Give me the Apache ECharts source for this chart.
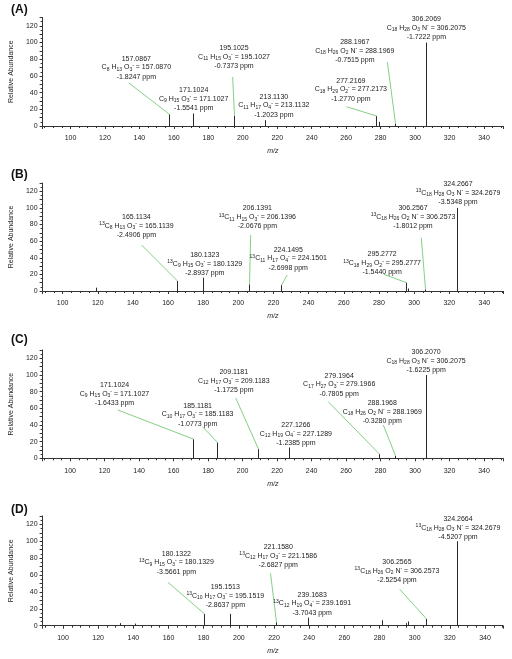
<!DOCTYPE html>
<html><head><meta charset="utf-8">
<script src="https://cdn.jsdelivr.net/npm/echarts@6/dist/echarts.min.js"></script>
<style>html,body{margin:0;padding:0;background:#fff}#c{width:512px;height:659px}</style>
</head><body><div id="c"></div>
<script>
// ---------- Panel A ----------
const mzA = [157.0867, 171.1024, 195.1025, 213.1130, 277.2169, 279.22, 288.1967, 306.2069];
const abA = [14, 15, 12, 7, 12, 5, 3, 100];
const labA = [
  [0, '157.0867', 'C{s|8} H{s|13} O{s|3}{p|-} = 157.0870', '-1.8247 ppm'],
  [1, '171.1024', 'C{s|9} H{s|15} O{s|3}{p|-} = 171.1027', '-1.5541 ppm'],
  [2, '195.1025', 'C{s|11} H{s|15} O{s|3}{p|-} = 195.1027', '-0.7373 ppm'],
  [3, '213.1130', 'C{s|11} H{s|17} O{s|4}{p|-} = 213.1132', '-1.2023 ppm'],
  [4, '277.2169', 'C{s|18} H{s|29} O{s|2}{p|-} = 277.2173', '-1.2770 ppm'],
  [6, '288.1967', 'C{s|18} H{s|26} O{s|2} N{p|-} = 288.1969', '-0.7515 ppm'],
  [7, '306.2069', 'C{s|18} H{s|28} O{s|3} N{p|-} = 306.2075', '-1.7222 ppm']
];
// ---------- Panel B ----------
const mzB = [119.05, 165.1134, 180.1323, 206.1391, 224.1495, 295.2772, 296.28, 306.2567, 324.2667];
const abB = [4, 12, 16, 8, 7, 10, 3, 2, 100];
const labB = [
  [1, '165.1134', '{p|13}C{s|8} H{s|13} O{s|3}{p|-} = 165.1139', '-2.4906 ppm'],
  [2, '180.1323', '{p|13}C{s|9} H{s|15} O{s|3}{p|-} = 180.1329', '-2.8937 ppm'],
  [3, '206.1391', '{p|13}C{s|11} H{s|15} O{s|3}{p|-} = 206.1396', '-2.0676 ppm'],
  [4, '224.1495', '{p|13}C{s|11} H{s|17} O{s|4}{p|-} = 224.1501', '-2.6998 ppm'],
  [5, '295.2772', '{p|13}C{s|18} H{s|29} O{s|2}{p|-} = 295.2777', '-1.5440 ppm'],
  [7, '306.2567', '{p|13}C{s|18} H{s|26} O{s|2} N{p|-} = 306.2573', '-1.8012 ppm'],
  [8, '324.2667', '{p|13}C{s|18} H{s|28} O{s|3} N{p|-} = 324.2679', '-3.5348 ppm']
];
// ---------- Panel C ----------
const mzC = [171.1024, 185.1181, 209.1181, 227.1266, 279.1964, 288.1968, 306.2070];
const abC = [23, 19, 11, 13, 5, 3, 100];
const labC = [
  [0, '171.1024', 'C{s|9} H{s|15} O{s|3}{p|-} = 171.1027', '-1.6433 ppm'],
  [1, '185.1181', 'C{s|10} H{s|17} O{s|3}{p|-} = 185.1183', '-1.0773 ppm'],
  [2, '209.1181', 'C{s|12} H{s|17} O{s|3}{p|-} = 209.1183', '-1.1725 ppm'],
  [3, '227.1266', 'C{s|12} H{s|19} O{s|4}{p|-} = 227.1289', '-1.2385 ppm'],
  [4, '279.1964', 'C{s|17} H{s|27} O{s|3}{p|-} = 279.1966', '-0.7805 ppm'],
  [5, '288.1968', 'C{s|18} H{s|26} O{s|2} N{p|-} = 288.1969', '-0.3280 ppm'],
  [6, '306.2070', 'C{s|18} H{s|28} O{s|3} N{p|-} = 306.2075', '-1.6225 ppm']
];
// ---------- Panel D ----------
const mzD = [132.7, 141.1, 180.1322, 195.1513, 221.1580, 239.1683, 281.5, 295.3, 296.2, 306.2565, 324.2664];
const abD = [3, 2.5, 14, 14, 4, 9.5, 6.5, 3, 5, 8, 100];
const labD = [
  [2, '180.1322', '{p|13}C{s|9} H{s|15} O{s|3}{p|-} = 180.1329', '-3.5661 ppm'],
  [3, '195.1513', '{p|13}C{s|10} H{s|17} O{s|3}{p|-} = 195.1519', '-2.8637 ppm'],
  [4, '221.1580', '{p|13}C{s|12} H{s|17} O{s|3}{p|-} = 221.1586', '-2.6827 ppm'],
  [5, '239.1683', '{p|13}C{s|12} H{s|19} O{s|4}{p|-} = 239.1691', '-3.7043 ppm'],
  [9, '306.2565', '{p|13}C{s|18} H{s|26} O{s|2} N{p|-} = 306.2573', '-2.5254 ppm'],
  [10, '324.2664', '{p|13}C{s|18} H{s|28} O{s|3} N{p|-} = 324.2679', '-4.5207 ppm']
];

// ---------- label layout (data coords of formula-line centre, and leader start) ----------
const posA = [[138.2, 70.3], [171.5, 32.7], [194.9, 83], [218, 24.8], [262.7, 44], [265, 89.8], [306.5, 117.7]];
const fromA = [[133.9, 51.5], null, [194.1, 58.7], null, [260.2, 23.1], [283.9, 76.6], null];
const posB = [[142.0, 78.3], [180.9, 32.5], [210.8, 88.8], [228.4, 39.4], [281.8, 33.4], [299.4, 89.5], [325.0, 118.4]];
const fromB = [[144.9, 55.4], null, [207.0, 67.5], [227.8, 19.3], [282.8, 20.1], [304.1, 64.2], null];
const posC = [[125.7, 77.2], [173.9, 52.8], [194.9, 93.2], [230.9, 29.2], [256.0, 88.8], [281.0, 55.9], [306.4, 116.8]];
const fromC = [[127.6, 58], [176.8, 37.9], [196.0, 72.4], null, [249.6, 68], [281.6, 40], null];
const posD = [[164.5, 75], [192.3, 35.5], [222.4, 82.8], [241.7, 26.5], [289.9, 64.7], [324.6, 116]];
const fromD = [[159.7, 51.4], null, [218.0, 62], null, [291.5, 43.1], null];

const FONT = 'Liberation Sans, Arial, sans-serif';
const TXT = '#222';
const LEADER = '#86cf86';

const panels = [
  {tag: '(A)', mz: mzA, ab: abA, lab: labA, pos: posA, from: fromA, xMin: 83.8, xMax: 351, top: 17.5, bottom: 533},
  {tag: '(B)', mz: mzB, ab: abB, lab: labB, pos: posB, from: fromB, xMin: 88.6, xMax: 350.6, top: 183, bottom: 368},
  {tag: '(C)', mz: mzC, ab: abC, lab: labC, pos: posC, from: fromC, xMin: 84, xMax: 351, top: 350, bottom: 200.7},
  {tag: '(D)', mz: mzD, ab: abD, lab: labD, pos: posD, from: fromD, xMin: 88.4, xMax: 350.2, top: 515.9, bottom: 33.3}
];
const tagY = [4, 169, 334, 504];

const rich = {
  s: {fontSize: 5, lineHeight: 6, verticalAlign: 'bottom', fontFamily: FONT},
  p: {fontSize: 5, lineHeight: 6, verticalAlign: 'top', fontFamily: FONT}
};

const grid = [], xAxis = [], yAxis = [], series = [], graphic = [];
panels.forEach((P, k) => {
  grid.push({left: 41, right: 9, top: P.top, bottom: P.bottom, containLabel: false});
  xAxis.push({
    type: 'value', gridIndex: k, min: P.xMin, max: P.xMax, splitNumber: 13, minInterval: 20, maxInterval: 20,
    name: 'm/z', nameLocation: 'middle', nameGap: 22,
    nameTextStyle: {fontStyle: 'italic', fontSize: 7, fontFamily: FONT, color: TXT},
    axisLine: {show: true, onZero: false, lineStyle: {color: '#333', width: 1}},
    axisTick: {show: true, length: 3, lineStyle: {color: '#333'}},
    minorTick: {show: true, splitNumber: 4, length: 2, lineStyle: {color: '#333'}},
    splitLine: {show: false}, minorSplitLine: {show: false},
    axisLabel: {fontSize: 7, fontFamily: FONT, color: TXT, margin: 9, showMinLabel: false, showMaxLabel: false,
      formatter: v => (Math.abs(v % 20) < 1e-6 ? String(v) : '')}
  });
  yAxis.push({
    type: 'value', gridIndex: k, min: 0, max: 130, interval: 10,
    name: 'Relative Abundance', nameLocation: 'middle', nameGap: 19,
    nameTextStyle: {fontSize: 7, fontFamily: FONT, color: TXT},
    axisLine: {show: true, lineStyle: {color: '#333', width: 1}},
    axisTick: {show: true, length: 3, lineStyle: {color: '#333'}},
    minorTick: {show: true, splitNumber: 2, length: 2, lineStyle: {color: '#333'}},
    splitLine: {show: false}, minorSplitLine: {show: false},
    axisLabel: {fontSize: 7, fontFamily: FONT, color: TXT, margin: 5,
      formatter: v => (v % 20 === 0 && v <= 120 ? String(v) : '')}
  });
  // stems
  series.push({
    type: 'custom', xAxisIndex: k, yAxisIndex: k, silent: true, clip: false,
    data: P.mz.map((m, i) => [m, P.ab[i]]),
    encode: {x: 0, y: 1},
    renderItem: (params, api) => {
      const p0 = api.coord([api.value(0), 0]);
      const p1 = api.coord([api.value(0), api.value(1)]);
      const x = Math.round(p0[0]) + 0.5;
      return {type: 'line', shape: {x1: x, y1: p0[1], x2: x, y2: p1[1]}, style: {stroke: '#2a2a2a', lineWidth: 1}};
    }
  });
  // annotations
  series.push({
    type: 'custom', xAxisIndex: k, yAxisIndex: k, silent: true, clip: false,
    data: P.pos.map((p, i) => [p[0], p[1], i]),
    encode: {x: 0, y: 1},
    renderItem: (params, api) => {
      const i = params.dataIndex;
      const L = P.lab[i];
      const c = api.coord(P.pos[i]);
      const pk = api.coord([P.mz[L[0]], P.ab[L[0]]]);
      const children = [];
      const base = {fill: TXT, fontSize: 7, fontFamily: FONT, align: 'center', verticalAlign: 'middle'};
      children.push({type: 'text', x: c[0], y: c[1] - 8.7, style: Object.assign({text: L[1]}, base)});
      children.push({type: 'text', x: c[0], y: c[1], style: Object.assign({text: L[2], rich: rich, lineHeight: 9}, base)});
      children.push({type: 'text', x: c[0], y: c[1] + 9.3, style: Object.assign({text: L[3]}, base)});
      if (P.from[i]) {
        const f = api.coord(P.from[i]);
        children.push({type: 'line', shape: {x1: f[0], y1: f[1], x2: Math.round(pk[0]) + 0.5, y2: pk[1]},
          style: {stroke: LEADER, lineWidth: 1}});
      }
      return {type: 'group', children: children};
    }
  });
  graphic.push({type: 'text', left: 11, top: tagY[k], style: {text: P.tag, font: 'bold 12px ' + FONT, fill: '#111'}});
});

const chart = echarts.init(document.getElementById('c'), null, {renderer: 'canvas'});
chart.setOption({animation: false, backgroundColor: '#fff', grid, xAxis, yAxis, series, graphic});
</script>
</body></html>
